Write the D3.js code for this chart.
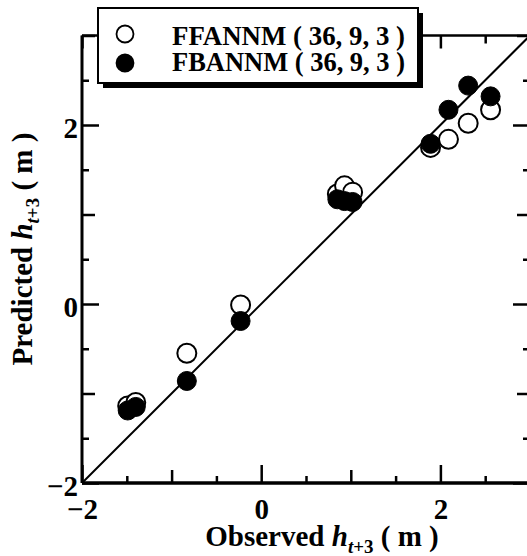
<!DOCTYPE html>
<html>
<head>
<meta charset="utf-8">
<script src="https://cdn.jsdelivr.net/npm/d3@7"></script>
<style>
  body { margin: 0; background: #fff; }
  svg { display: block; }
  .tick text { font-family: "Liberation Serif", "Times New Roman", serif; font-weight: bold; font-size: 29px; fill: #000; }
  .tick line { stroke: #000; stroke-width: 2.5; }
</style>
</head>
<body>
<div id="chart"></div>
<script>
var svgWidth = 527;
var svgHeight = 556;

// observed h(t+3), same for both models
var observed = [-1.49, -1.40, -0.83, -0.23, 0.85, 0.93, 1.02, 1.89, 2.09, 2.31, 2.56];
var ffannm = [-1.14, -1.10, -0.55, -0.01, 1.23, 1.32, 1.25, 1.75, 1.84, 2.02, 2.17];
var fbannm = [-1.19, -1.15, -0.86, -0.19, 1.17, 1.15, 1.14, 1.79, 2.17, 2.44, 2.32];

var legendLabels = ["FFANNM ( 36, 9, 3 )", "FBANNM ( 36, 9, 3 )"];
var majorTicks = [-2, 0, 2];
var mediumTicks = [-1, 1, 3];
var minorTicks = [-1.5, -0.5, 0.5, 1.5, 2.5];

var fontFam = '"Liberation Serif", "Times New Roman", serif';

var svg = d3.select("#chart")
    .append("svg")
    .attr("width", svgWidth)
    .attr("height", svgHeight);

var x = d3.scaleLinear().domain([-2, 3]).range([82, 530]);
var y = d3.scaleLinear().domain([-2, 3]).range([483, 35.5]);

var fmt = d => d3.format("d")(d); // d3 gives the real minus sign

// bottom axis, three tick lengths, pointing inward
function drawBottom(vals, size, labels) {
    var ax = d3.axisBottom(x).tickValues(vals).tickSize(-size).tickPadding(15)
        .tickFormat(labels ? fmt : "");
    var g = svg.append("g").attr("transform", `translate(0,${y(-2)})`).call(ax);
    g.select(".domain").remove();
}
function drawLeft(vals, size, labels) {
    var ax = d3.axisLeft(y).tickValues(vals).tickSize(-size).tickPadding(4)
        .tickFormat(labels ? fmt : "");
    var g = svg.append("g").attr("transform", `translate(${x(-2)},0)`).call(ax);
    g.select(".domain").remove();
    g.selectAll("text").attr("dy", "0.42em");
}
function drawRight(vals, size) {
    var ax = d3.axisRight(y).tickValues(vals).tickSize(-size).tickFormat("");
    var g = svg.append("g").attr("transform", `translate(${x(3)},0)`).call(ax);
    g.select(".domain").remove();
}
function drawTop(vals, size) {
    var ax = d3.axisTop(x).tickValues(vals).tickSize(-size).tickFormat("");
    var g = svg.append("g").attr("transform", `translate(0,${y(3)})`).call(ax);
    g.select(".domain").remove();
}

drawBottom(majorTicks, 18, true);
drawBottom(mediumTicks, 13, false);
drawBottom(minorTicks, 7, false);
drawLeft(majorTicks, 17, true);
drawLeft(mediumTicks, 13, false);
drawLeft(minorTicks, 7, false);
drawRight(majorTicks, 17);
drawRight(mediumTicks, 13);
drawRight(minorTicks, 7);
drawTop(majorTicks, 13);
drawTop(minorTicks, 8);

// frame
svg.append("line").attr("x1", x(-2)).attr("x2", x(3)).attr("y1", y(-2)).attr("y2", y(-2))
    .attr("stroke", "#000").attr("stroke-width", 3.5);
svg.append("line").attr("x1", x(-2)).attr("x2", x(-2)).attr("y1", y(-2)).attr("y2", y(3))
    .attr("stroke", "#000").attr("stroke-width", 3);
svg.append("line").attr("x1", x(-2)).attr("x2", x(3)).attr("y1", y(3)).attr("y2", y(3))
    .attr("stroke", "#000").attr("stroke-width", 2.5);
svg.append("line").attr("x1", x(3)).attr("x2", x(3)).attr("y1", y(-2)).attr("y2", y(3))
    .attr("stroke", "#000").attr("stroke-width", 2.5);

// 1:1 line
svg.append("line")
    .attr("x1", x(-2)).attr("y1", y(-2))
    .attr("x2", x(3)).attr("y2", y(3))
    .attr("stroke", "#000").attr("stroke-width", 2);

// points: open first, filled on top
svg.append("g").selectAll("circle")
    .data(observed.map((o, i) => [o, ffannm[i]]))
    .enter().append("circle")
    .attr("cx", d => x(d[0])).attr("cy", d => y(d[1])).attr("r", 9.5)
    .attr("fill", "#fff").attr("stroke", "#000").attr("stroke-width", 2);

svg.append("g").selectAll("circle")
    .data(observed.map((o, i) => [o, fbannm[i]]))
    .enter().append("circle")
    .attr("cx", d => x(d[0])).attr("cy", d => y(d[1])).attr("r", 9.5)
    .attr("fill", "#000").attr("stroke", "#000").attr("stroke-width", 1);

// legend with drop shadow
var leg = svg.append("g");
leg.append("rect").attr("x", 103).attr("y", 13).attr("width", 320).attr("height", 75).attr("fill", "#000");
leg.append("rect").attr("x", 98).attr("y", 8).attr("width", 320).attr("height", 75)
    .attr("fill", "#fff").attr("stroke", "#000").attr("stroke-width", 2);

var legRows = [{ y: 34, base: 45, fill: "#fff" }, { y: 63, base: 71, fill: "#000" }];
legRows.forEach(function(r, i) {
    leg.append("circle").attr("cx", 125).attr("cy", r.y).attr("r", 8.5)
        .attr("fill", r.fill).attr("stroke", "#000").attr("stroke-width", 1.8);
    leg.append("text").attr("x", 172).attr("y", r.base)
        .attr("font-family", fontFam).attr("font-weight", "bold").attr("font-size", 28)
        .attr("textLength", 233).attr("lengthAdjust", "spacingAndGlyphs")
        .text(legendLabels[i]);
});

// axis titles
function axisTitle(g, name) {
    var t = g.append("text")
        .attr("font-family", fontFam).attr("font-weight", "bold").attr("font-size", 29);
    t.append("tspan").text(name + " ");
    t.append("tspan").attr("font-style", "italic").text("h");
    t.append("tspan").attr("font-size", 19).attr("dy", 7).attr("font-style", "italic").text("t");
    t.append("tspan").attr("font-size", 19).text("+3");
    t.append("tspan").attr("dy", -7).text(" ( m )");
    return t;
}

axisTitle(svg.append("g").attr("transform", "translate(322,546)"), "Observed")
    .attr("text-anchor", "middle");
axisTitle(svg.append("g").attr("transform", "translate(32,249) rotate(-90)"), "Predicted")
    .attr("text-anchor", "middle");
</script>
</body>
</html>
